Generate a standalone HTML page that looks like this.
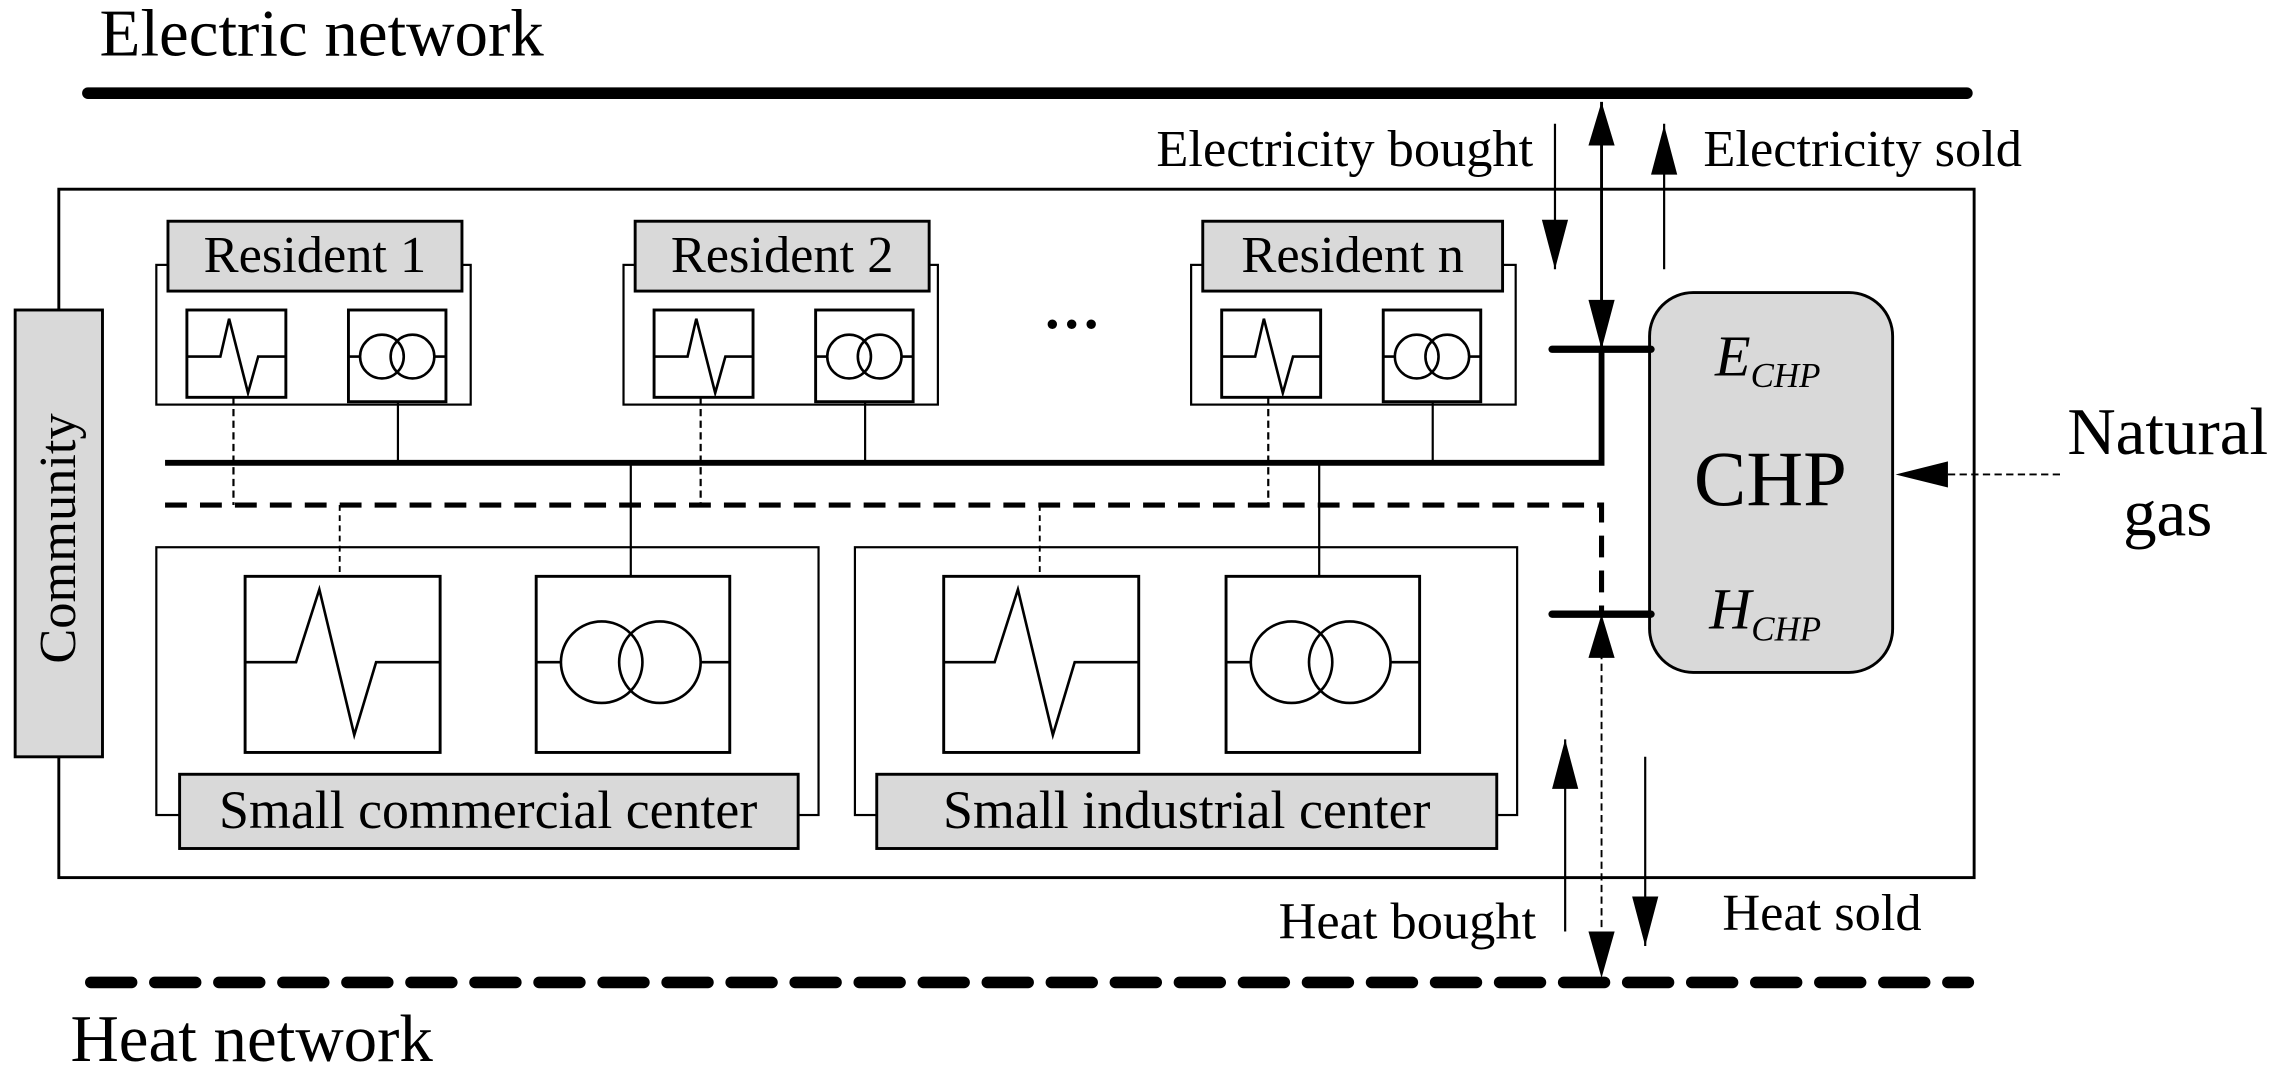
<!DOCTYPE html>
<html><head><meta charset="utf-8"><style>html,body{margin:0;padding:0;background:#fff}svg{display:block}</style></head>
<body>
<svg width="2276" height="1077" viewBox="0 0 1563 740" xmlns="http://www.w3.org/2000/svg" font-family="Liberation Serif, serif">
<rect width="1563" height="740" fill="#fff"/>
<text x="68" y="38" font-size="46">Electric network</text>
<line x1="60" y1="64" x2="1351" y2="64" stroke="#000" stroke-width="8" stroke-linecap="round"/>
<rect x="40" y="130" width="1316" height="473" fill="none" stroke="#000" stroke-width="2"/>
<rect x="10" y="213" width="60" height="307" fill="#d9d9d9" stroke="#000" stroke-width="2"/>
<text transform="translate(51,370) rotate(-90)" font-size="36" text-anchor="middle">Community</text>

<polyline points="113,318 1100,318 1100,240" fill="none" stroke="#000" stroke-width="4"/>
<polyline points="113,347 1100,347 1100,422" fill="none" stroke="#000" stroke-width="3.5" stroke-dasharray="15,9"/>

<g>
<rect x="107" y="182" width="216" height="96" fill="none" stroke="#000" stroke-width="1.5"/>
<rect x="115" y="152" width="202" height="48" fill="#d9d9d9" stroke="#000" stroke-width="2"/>
<rect x="128" y="213" width="68" height="60" fill="#fff" stroke="#000" stroke-width="2"/>
<polyline points="128,245 151,245 157,219 170,270 177,245 196,245" fill="none" stroke="#000" stroke-width="1.8"/>
<rect x="239" y="213" width="67" height="63" fill="#fff" stroke="#000" stroke-width="2"/>
<circle cx="262" cy="245" r="15" fill="none" stroke="#000" stroke-width="1.8"/>
<circle cx="283" cy="245" r="15" fill="none" stroke="#000" stroke-width="1.8"/>
<line x1="239" y1="245" x2="247" y2="245" stroke="#000" stroke-width="1.8"/>
<line x1="298" y1="245" x2="306" y2="245" stroke="#000" stroke-width="1.8"/>
<line x1="160" y1="273" x2="160" y2="347" stroke="#000" stroke-width="1.5" stroke-dasharray="5,3"/>
<line x1="273" y1="276" x2="273" y2="318" stroke="#000" stroke-width="1.5"/>
</g>
<text x="216" y="187" font-size="36" text-anchor="middle">Resident 1</text>
<g transform="translate(321,0)">
<rect x="107" y="182" width="216" height="96" fill="none" stroke="#000" stroke-width="1.5"/>
<rect x="115" y="152" width="202" height="48" fill="#d9d9d9" stroke="#000" stroke-width="2"/>
<rect x="128" y="213" width="68" height="60" fill="#fff" stroke="#000" stroke-width="2"/>
<polyline points="128,245 151,245 157,219 170,270 177,245 196,245" fill="none" stroke="#000" stroke-width="1.8"/>
<rect x="239" y="213" width="67" height="63" fill="#fff" stroke="#000" stroke-width="2"/>
<circle cx="262" cy="245" r="15" fill="none" stroke="#000" stroke-width="1.8"/>
<circle cx="283" cy="245" r="15" fill="none" stroke="#000" stroke-width="1.8"/>
<line x1="239" y1="245" x2="247" y2="245" stroke="#000" stroke-width="1.8"/>
<line x1="298" y1="245" x2="306" y2="245" stroke="#000" stroke-width="1.8"/>
<line x1="160" y1="273" x2="160" y2="347" stroke="#000" stroke-width="1.5" stroke-dasharray="5,3"/>
<line x1="273" y1="276" x2="273" y2="318" stroke="#000" stroke-width="1.5"/>
</g>
<text x="537" y="187" font-size="36" text-anchor="middle">Resident 2</text>
<g transform="translate(711,0)">
<rect x="107" y="182" width="223" height="96" fill="none" stroke="#000" stroke-width="1.5"/>
<rect x="115" y="152" width="206" height="48" fill="#d9d9d9" stroke="#000" stroke-width="2"/>
<rect x="128" y="213" width="68" height="60" fill="#fff" stroke="#000" stroke-width="2"/>
<polyline points="128,245 151,245 157,219 170,270 177,245 196,245" fill="none" stroke="#000" stroke-width="1.8"/>
<rect x="239" y="213" width="67" height="63" fill="#fff" stroke="#000" stroke-width="2"/>
<circle cx="262" cy="245" r="15" fill="none" stroke="#000" stroke-width="1.8"/>
<circle cx="283" cy="245" r="15" fill="none" stroke="#000" stroke-width="1.8"/>
<line x1="239" y1="245" x2="247" y2="245" stroke="#000" stroke-width="1.8"/>
<line x1="298" y1="245" x2="306" y2="245" stroke="#000" stroke-width="1.8"/>
<line x1="160" y1="273" x2="160" y2="347" stroke="#000" stroke-width="1.5" stroke-dasharray="5,3"/>
<line x1="273" y1="276" x2="273" y2="318" stroke="#000" stroke-width="1.5"/>
</g>
<text x="929" y="187" font-size="36" text-anchor="middle">Resident n</text>
<text x="736" y="236" font-size="40" text-anchor="middle" font-weight="bold">···</text>

<g>
<rect x="107" y="376" width="455" height="184" fill="none" stroke="#000" stroke-width="1.5"/>
<rect x="168" y="396" width="134" height="121" fill="#fff" stroke="#000" stroke-width="2"/>
<polyline points="168,455 203,455 219,405 243,505 258,455 302,455" fill="none" stroke="#000" stroke-width="1.8"/>
<rect x="368" y="396" width="133" height="121" fill="#fff" stroke="#000" stroke-width="2"/>
<circle cx="413" cy="455" r="28" fill="none" stroke="#000" stroke-width="1.8"/>
<circle cx="453" cy="455" r="28" fill="none" stroke="#000" stroke-width="1.8"/>
<line x1="368" y1="455" x2="385" y2="455" stroke="#000" stroke-width="1.8"/>
<line x1="481" y1="455" x2="501" y2="455" stroke="#000" stroke-width="1.8"/>
<line x1="233" y1="347" x2="233" y2="396" stroke="#000" stroke-width="1.3" stroke-dasharray="4,3"/>
<line x1="433" y1="318" x2="433" y2="396" stroke="#000" stroke-width="1.5"/>
<rect x="123" y="532" width="425" height="51" fill="#d9d9d9" stroke="#000" stroke-width="2"/>
</g>
<text x="335" y="569" font-size="37" text-anchor="middle">Small commercial center</text>
<g transform="translate(480,0)">
<rect x="107" y="376" width="455" height="184" fill="none" stroke="#000" stroke-width="1.5"/>
<rect x="168" y="396" width="134" height="121" fill="#fff" stroke="#000" stroke-width="2"/>
<polyline points="168,455 203,455 219,405 243,505 258,455 302,455" fill="none" stroke="#000" stroke-width="1.8"/>
<rect x="362" y="396" width="133" height="121" fill="#fff" stroke="#000" stroke-width="2"/>
<circle cx="407" cy="455" r="28" fill="none" stroke="#000" stroke-width="1.8"/>
<circle cx="447" cy="455" r="28" fill="none" stroke="#000" stroke-width="1.8"/>
<line x1="362" y1="455" x2="379" y2="455" stroke="#000" stroke-width="1.8"/>
<line x1="475" y1="455" x2="495" y2="455" stroke="#000" stroke-width="1.8"/>
<line x1="234" y1="347" x2="234" y2="396" stroke="#000" stroke-width="1.3" stroke-dasharray="4,3"/>
<line x1="426" y1="318" x2="426" y2="396" stroke="#000" stroke-width="1.5"/>
<rect x="122" y="532" width="426" height="51" fill="#d9d9d9" stroke="#000" stroke-width="2"/>
</g>
<text x="815" y="569" font-size="37" text-anchor="middle">Small industrial center</text>

<rect x="1133" y="201" width="167" height="261" rx="30" fill="#d9d9d9" stroke="#000" stroke-width="2"/>
<text x="1216" y="347" font-size="54" text-anchor="middle">CHP</text>
<text x="1178" y="258" font-size="40" font-style="italic">E<tspan font-size="24" dy="8">CHP</tspan></text>
<text x="1174" y="432" font-size="40" font-style="italic">H<tspan font-size="24" dy="8">CHP</tspan></text>
<line x1="1066" y1="240" x2="1134" y2="240" stroke="#000" stroke-width="5" stroke-linecap="round"/>
<line x1="1066" y1="422" x2="1134" y2="422" stroke="#000" stroke-width="5" stroke-linecap="round"/>

<line x1="1100" y1="70" x2="1100" y2="240" stroke="#000" stroke-width="2"/>
<polygon points="1100,70 1091,100 1109,100" fill="#000"/>
<polygon points="1100,240 1091,206 1109,206" fill="#000"/>
<line x1="1068" y1="85" x2="1068" y2="185" stroke="#000" stroke-width="1.5"/>
<polygon points="1068,185 1059,151 1077,151" fill="#000"/>
<line x1="1143" y1="85" x2="1143" y2="185" stroke="#000" stroke-width="1.5"/>
<polygon points="1143,86 1134,120 1152,120" fill="#000"/>
<text x="1053" y="114" font-size="36" text-anchor="end">Electricity bought</text>
<text x="1170" y="114" font-size="36">Electricity sold</text>

<line x1="1415" y1="326" x2="1335" y2="326" stroke="#000" stroke-width="1.3" stroke-dasharray="5,3"/>
<polygon points="1302,326 1338,317 1338,335" fill="#000"/>
<text x="1489" y="312" font-size="46" text-anchor="middle">Natural</text>
<text x="1489" y="368" font-size="46" text-anchor="middle">gas</text>

<line x1="1100" y1="440" x2="1100" y2="660" stroke="#000" stroke-width="1.3" stroke-dasharray="5,3"/>
<polygon points="1100,422 1091,452 1109,452" fill="#000"/>
<polygon points="1100,672 1091,640 1109,640" fill="#000"/>
<line x1="1075" y1="508" x2="1075" y2="640" stroke="#000" stroke-width="1.5"/>
<polygon points="1075,508 1066,542 1084,542" fill="#000"/>
<line x1="1130" y1="520" x2="1130" y2="650" stroke="#000" stroke-width="1.5"/>
<polygon points="1130,650 1121,616 1139,616" fill="#000"/>
<text x="1055" y="645" font-size="36" text-anchor="end">Heat bought</text>
<text x="1183" y="639" font-size="36">Heat sold</text>

<line x1="62" y1="675" x2="1352" y2="675" stroke="#000" stroke-width="8" stroke-dasharray="28,16" stroke-linecap="round"/>
<text x="48" y="729" font-size="46">Heat network</text>
</svg>
</body></html>
